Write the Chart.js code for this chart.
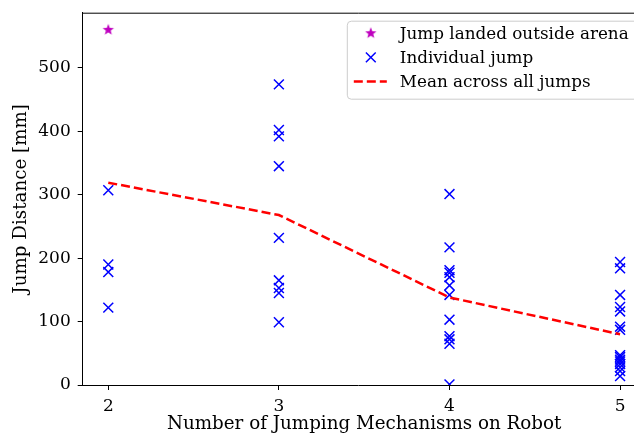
<!DOCTYPE html>
<html>
<head>
<meta charset="utf-8">
<script src="https://cdn.jsdelivr.net/npm/chart.js@4.4.1/dist/chart.umd.min.js"></script>
<style>
  html, body { margin: 0; padding: 0; background: #fff; overflow: hidden; }
</style>
</head>
<body>
<canvas id="jumpChart" width="634" height="434"></canvas>
<script>
// jump distances (mm) grouped by number of jumping mechanisms
const mechCounts = [2, 3, 4, 5];
const jumps2 = [307, 190, 178, 122];
const jumps3 = [474, 402, 392, 345, 232, 165, 153, 145, 99];
const jumps4 = [301, 217, 181, 177, 170, 157, 142, 103, 77, 72, 65, 1];
const jumps5 = [194, 184, 142, 123, 116, 92, 87, 47, 44, 40, 37, 33, 28, 22, 14];
const outsideMech = [2];
const outsideDist = [560];
const meanDistance = [319, 268, 138, 80];
const xTicks = [2, 3, 4, 5];
const yTicks = [0, 100, 200, 300, 400, 500];
const seriesLabels = ['Jump landed outside arena', 'Individual jump', 'Mean across all jumps'];
const xTitle = 'Number of Jumping Mechanisms on Robot';

// the x axis nominally spans 1.85..5.15 but the canvas cuts it at ~5.08
const X_MIN = 1.85, X_FULL_MAX = 5.15, X_MAX = 5.0816;

const TICK_FONT = { family: 'DejaVu Serif', size: 17 };
const TITLE_FONT = { family: 'DejaVu Serif', size: 18.3 };
const LEGEND_FONT = '16.8px DejaVu Serif';
const BLUE = '#0000ff', MAGENTA = '#bf00bf', RED = '#ff0000';

const jumpPoints = [];
[jumps2, jumps3, jumps4, jumps5].forEach((arr, i) => {
  arr.forEach(v => jumpPoints.push({ x: mechCounts[i], y: v }));
});
const outsidePoints = outsideMech.map((m, i) => ({ x: m, y: outsideDist[i] }));
const meanPoints = mechCounts.map((m, i) => ({ x: m, y: meanDistance[i] }));

// filled five point star, used as a point style
function makeStar(r, color) {
  const size = Math.ceil(r * 2 + 2);
  const c = document.createElement('canvas');
  c.width = c.height = size;
  const g = c.getContext('2d');
  g.fillStyle = color;
  g.beginPath();
  for (let i = 0; i < 10; i++) {
    const rad = i % 2 ? r * 0.42 : r;
    const a = -Math.PI / 2 + i * Math.PI / 5;
    g.lineTo(size / 2 + rad * Math.cos(a), size / 2 + rad * Math.sin(a));
  }
  g.closePath();
  g.fill();
  return c;
}
const starImg = makeStar(6, MAGENTA);

function drawCross(ctx, x, y, h, color) {
  ctx.save();
  ctx.strokeStyle = color;
  ctx.lineWidth = 1.5;
  ctx.beginPath();
  ctx.moveTo(x - h, y - h); ctx.lineTo(x + h, y + h);
  ctx.moveTo(x - h, y + h); ctx.lineTo(x + h, y - h);
  ctx.stroke();
  ctx.restore();
}

// top spine, plus the x axis title centred on the full (uncut) axis
const frameAndTitle = {
  id: 'frameAndTitle',
  afterDraw(chart) {
    const { ctx, chartArea: a } = chart;
    const xs = chart.scales.x;
    ctx.save();
    ctx.strokeStyle = '#000';
    ctx.lineWidth = 1;
    ctx.beginPath();
    ctx.moveTo(a.left, a.top + 0.5);
    ctx.lineTo(a.right, a.top + 0.5);
    ctx.stroke();

    ctx.font = TITLE_FONT.size + 'px ' + TITLE_FONT.family;
    ctx.fillStyle = '#000';
    ctx.textAlign = 'center';
    ctx.textBaseline = 'middle';
    ctx.fillText(xTitle, xs.getPixelForValue((X_MIN + X_FULL_MAX) / 2), a.bottom + 39);
    ctx.restore();
  }
};

// boxed legend in the upper right corner of the full axes
const legendBox = {
  id: 'legendBox',
  afterDraw(chart) {
    const { ctx, chartArea: a } = chart;
    const xs = chart.scales.x;
    ctx.save();
    ctx.font = LEGEND_FONT;
    const textW = Math.max(...seriesLabels.map(t => ctx.measureText(t).width));
    const right = xs.getPixelForValue(X_FULL_MAX) - 8, top = a.top + 8;
    const w = 53 + textW + 9, h = 78;
    const left = right - w;
    ctx.beginPath();
    ctx.roundRect(left + 0.5, top + 0.5, w, h, 4);
    ctx.fillStyle = 'rgba(255,255,255,0.8)';
    ctx.fill();
    ctx.strokeStyle = '#cccccc';
    ctx.lineWidth = 1;
    ctx.stroke();

    const rows = [top + 12.5, top + 36.7, top + 60.9];
    const mx = left + 24;
    ctx.drawImage(starImg, mx - starImg.width / 2, rows[0] - starImg.height / 2);
    drawCross(ctx, mx, rows[1], 4.9, BLUE);
    ctx.strokeStyle = RED;
    ctx.lineWidth = 2.5;
    ctx.setLineDash([9, 4]);
    ctx.beginPath();
    ctx.moveTo(left + 7, rows[2]);
    ctx.lineTo(left + 40, rows[2]);
    ctx.stroke();
    ctx.setLineDash([]);

    ctx.fillStyle = '#000';
    ctx.textBaseline = 'middle';
    seriesLabels.forEach((t, i) => ctx.fillText(t, left + 53, rows[i] + 1));
    ctx.restore();
  }
};

const axisCommon = {
  type: 'linear',
  grid: { drawOnChartArea: false, drawTicks: true, tickLength: 5, tickColor: '#000', tickWidth: 1 },
  border: { display: true, color: '#000', width: 1 },
};

new Chart(document.getElementById('jumpChart'), {
  type: 'scatter',
  data: {
    datasets: [
      {
        label: seriesLabels[2],
        data: meanPoints,
        showLine: true,
        borderColor: RED,
        borderWidth: 2.5,
        borderDash: [9, 4],
        pointRadius: 0,
        fill: false,
        clip: 0
      },
      {
        label: seriesLabels[1],
        data: jumpPoints,
        pointStyle: 'crossRot',
        pointRadius: 7,
        borderColor: BLUE,
        backgroundColor: BLUE,
        pointBorderWidth: 1.5,
        clip: 0
      },
      {
        label: seriesLabels[0],
        data: outsidePoints,
        pointStyle: starImg,
        clip: 0
      }
    ]
  },
  options: {
    responsive: false,
    animation: false,
    devicePixelRatio: 1,
    layout: { autoPadding: false, padding: { top: 12.7, right: 0, left: 0, bottom: 0 } },
    plugins: { legend: { display: false }, tooltip: { enabled: false } },
    scales: {
      x: {
        ...axisCommon,
        min: X_MIN,
        max: X_MAX,
        afterBuildTicks: s => { s.ticks = xTicks.map(v => ({ value: v })); },
        afterFit: s => { s.height = 49; s.paddingLeft = 0; s.paddingRight = 0; },
        ticks: { color: '#000', font: TICK_FONT, padding: 6 }
      },
      y: {
        ...axisCommon,
        min: 0,
        max: 587,
        afterBuildTicks: s => { s.ticks = yTicks.map(v => ({ value: v })); },
        afterFit: s => { s.width = 82.7; s.paddingTop = 0; s.paddingBottom = 0; },
        ticks: { color: '#000', font: TICK_FONT, padding: 7 },
        title: { display: true, text: 'Jump Distance [mm]', color: '#000', font: TITLE_FONT, padding: { top: 10, bottom: 0 } }
      }
    }
  },
  plugins: [frameAndTitle, legendBox]
});
</script>
</body>
</html>
